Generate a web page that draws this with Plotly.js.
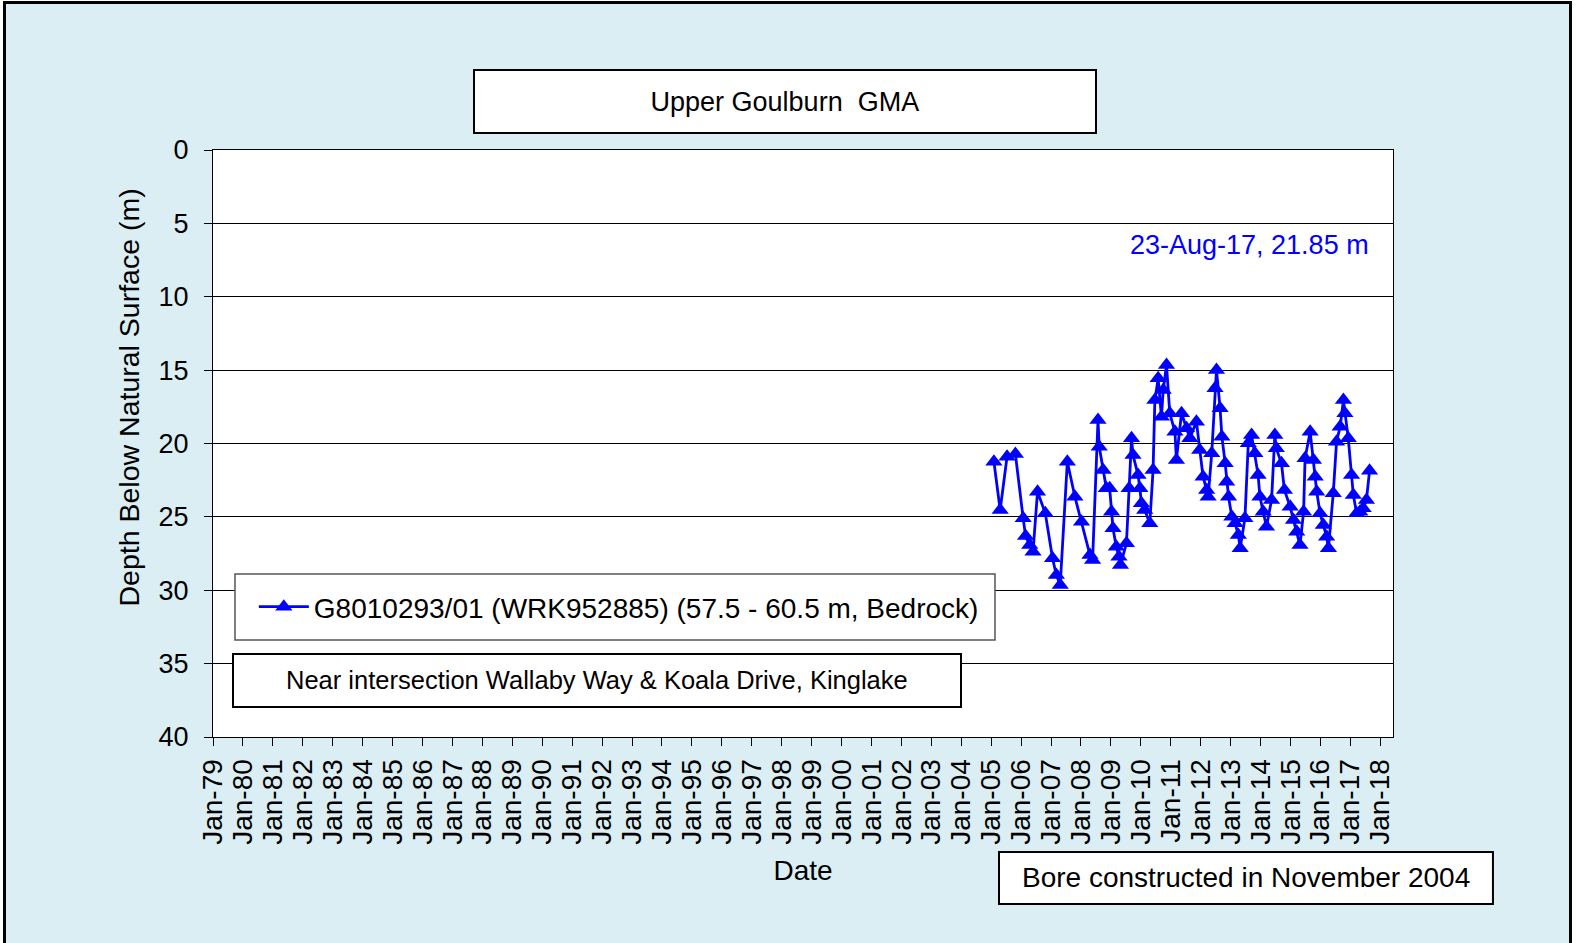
<!DOCTYPE html>
<html>
<head>
<meta charset="utf-8">
<script src="https://cdn.plot.ly/plotly-3.0.1.min.js"></script>
<style>
  html, body { margin:0; padding:0; background:#ffffff; }
  #wrap { position:relative; width:1576px; height:943px; overflow:hidden; background:#fff; }
  #chart { position:absolute; left:0; top:0; width:1576px; height:943px; }
  #frame { position:absolute; left:3px; top:1px; width:1563px; height:1000px; border:3px solid #000;
           box-shadow:0 0 0 30px #ffffff; pointer-events:none; }
</style>
</head>
<body>
<div id="wrap">
  <div id="chart"></div>
  <div id="frame"></div>
</div>
<script>
const dates = [
  '2005-02-03','2005-04-20','2005-07-13','2005-10-23','2006-01-26','2006-02-24','2006-04-16','2006-05-26',
  '2006-07-20','2006-10-23','2007-01-19','2007-03-07','2007-04-23','2007-07-19','2007-10-19','2008-01-08',
  '2008-04-20','2008-05-22','2008-07-27','2008-08-11','2008-09-27','2008-11-06','2008-12-16','2009-01-08',
  '2009-01-26','2009-03-07','2009-04-09','2009-04-27','2009-07-09','2009-08-11','2009-09-09','2009-09-27',
  '2009-11-28','2009-12-20','2010-01-08','2010-02-17','2010-04-20','2010-05-30','2010-06-21','2010-07-31',
  '2010-09-09','2010-10-01','2010-11-10','2010-12-20','2011-02-21','2011-03-11','2011-05-12','2011-07-13',
  '2011-08-22','2011-11-10','2011-12-20','2012-01-30','2012-03-14','2012-04-01','2012-05-15','2012-06-24',
  '2012-07-12','2012-08-25','2012-09-16','2012-10-26','2012-11-13','2012-12-06','2013-01-15','2013-02-24',
  '2013-04-05','2013-04-27','2013-06-24','2013-08-04','2013-09-13','2013-10-23','2013-12-02','2013-12-24',
  '2014-02-02','2014-03-14','2014-05-15','2014-06-24','2014-07-12','2014-09-13','2014-10-19','2014-12-28',
  '2015-02-06','2015-03-18','2015-04-27','2015-06-10','2015-06-28','2015-08-29','2015-10-08','2015-10-30',
  '2015-11-17','2015-12-28','2016-02-06','2016-03-17','2016-04-08','2016-06-06','2016-07-16','2016-08-29',
  '2016-10-08','2016-10-26','2016-12-06','2017-01-15','2017-02-06','2017-03-18','2017-04-27','2017-06-06',
  '2017-07-16','2017-08-23'
];
const depths = [
  21.24,24.53,20.90,20.72,25.10,26.30,26.92,27.37,
  23.28,24.76,27.82,28.96,29.64,21.24,23.63,25.33,
  27.60,27.94,18.40,20.22,21.81,23.05,23.05,24.65,
  25.78,27.03,27.71,28.28,26.80,23.05,19.65,20.78,
  22.15,23.05,24.08,24.53,25.44,21.81,17.04,15.56,
  18.17,16.35,14.65,17.94,19.20,21.12,17.94,18.96,
  19.65,18.51,20.44,22.26,23.17,23.63,20.67,16.24,
  14.99,17.60,19.54,21.35,22.60,23.63,24.99,25.44,
  26.24,27.14,25.10,19.99,19.42,20.67,22.15,23.63,
  24.65,25.67,23.85,19.42,20.33,21.35,23.17,24.31,
  25.21,26.01,26.92,24.65,21.01,19.20,21.12,22.26,
  23.28,24.76,25.55,26.35,27.14,23.39,19.88,18.86,
  17.04,17.94,19.65,22.15,23.51,24.76,24.65,24.42,
  23.85,21.85
];
const seriesName = 'G8010293/01 (WRK952885) (57.5 - 60.5 m, Bedrock)';
const chartTitle = 'Upper Goulburn  GMA';
const yTitle = 'Depth Below Natural Surface (m)';
const xTitle = 'Date';
const lastLabel = '23-Aug-17, 21.85 m';
const locationText = 'Near intersection Wallaby Way & Koala Drive, Kinglake';
const boreText = 'Bore constructed in November 2004';
const yTicks = [0,5,10,15,20,25,30,35,40];

const FONT = 'Arial, "Liberation Sans", sans-serif';

const trace = {
  x: dates, y: depths, type:'scatter', mode:'lines+markers', name: seriesName,
  line:{color:'#0000FF', width:2.8},
  marker:{symbol:'triangle-up', size:15, color:'#0000FF'}
};

const layout = {
  width:1576, height:943,
  margin:{l:213, r:183, t:150, b:206},
  paper_bgcolor:'#DAEEF3',
  plot_bgcolor:'#FFFFFF',
  font:{family:FONT, color:'#000', size:27},
  title:{text:chartTitle, x:0.498, xanchor:'center', y:1-101.5/943, yanchor:'middle',
         font:{family:FONT, size:27, color:'#000'}},
  showlegend:true,
  legend:{x:0.0346, xanchor:'left', y:0.2215, yanchor:'middle', bgcolor:'rgba(0,0,0,0)',
          borderwidth:0, font:{family:FONT, size:28, color:'#000'}, itemwidth:50},
  xaxis:{
    type:'date', range:['1979-01-01','2018-06-05'],
    tick0:'1979-01-01', dtick:'M12', tickformat:'%b-%y', tickangle:-90,
    ticks:'outside', ticklen:8, tickcolor:'#000', tickwidth:1, ticklabelstandoff:2,
    showgrid:false, zeroline:false,
    showline:true, mirror:true, linecolor:'#000', linewidth:1,
    tickfont:{family:FONT, size:28, color:'#000'},
    title:{text:xTitle, standoff:16, font:{family:FONT, size:28, color:'#000'}}
  },
  yaxis:{
    range:[40,0], tickvals:yTicks, ticktext:yTicks.map(String),
    ticks:'outside', ticklen:8, tickcolor:'#000', tickwidth:1, ticklabelstandoff:10,
    showgrid:true, gridcolor:'#000', gridwidth:1, zeroline:false,
    showline:true, mirror:true, linecolor:'#000', linewidth:1,
    tickfont:{family:FONT, size:27, color:'#000'}
  },
  shapes:[
    {type:'rect', xref:'paper', yref:'paper', x0:0.2212, x1:0.7483, y0:1.029, y1:1.1363,
     line:{color:'#000', width:2}, fillcolor:'#FFFFFF', layer:'below'},
    {type:'rect', xref:'paper', yref:'paper', x0:0.01864, x1:0.6627, y0:0.1652, y1:0.2777,
     line:{color:'#555', width:1.5}, fillcolor:'#FFFFFF', layer:'above'},
    {type:'rect', xref:'paper', yref:'paper', x0:0.01695, x1:0.6339, y0:0.0511, y1:0.1414,
     line:{color:'#000', width:2}, fillcolor:'#FFFFFF', layer:'above'},
    {type:'rect', xref:'paper', yref:'paper', x0:0.6661, x1:1.0847, y0:-0.2845, y1:-0.1959,
     line:{color:'#000', width:2}, fillcolor:'#FFFFFF', layer:'above'}
  ],
  annotations:[
    {text:yTitle, xref:'paper', yref:'paper', x:-0.0712, y:0.5784, xanchor:'center', yanchor:'middle',
     textangle:-90, showarrow:false, font:{family:FONT, size:28.5, color:'#000'}},
    {text:lastLabel, xref:'paper', yref:'paper', x:0.878, y:0.8382, xanchor:'center', yanchor:'middle',
     showarrow:false, font:{family:FONT, size:27, color:'#0000FF'}},
    {text:locationText, xref:'paper', yref:'paper', x:0.3254, y:0.0963, xanchor:'center', yanchor:'middle',
     showarrow:false, font:{family:FONT, size:25.5, color:'#000'}},
    {text:boreText, xref:'paper', yref:'paper', x:0.8754, y:-0.2402, xanchor:'center', yanchor:'middle',
     showarrow:false, font:{family:FONT, size:28, color:'#000'}}
  ]
};

Plotly.newPlot('chart', [trace], layout, {displayModeBar:false, staticPlot:true});
</script>
</body>
</html>
